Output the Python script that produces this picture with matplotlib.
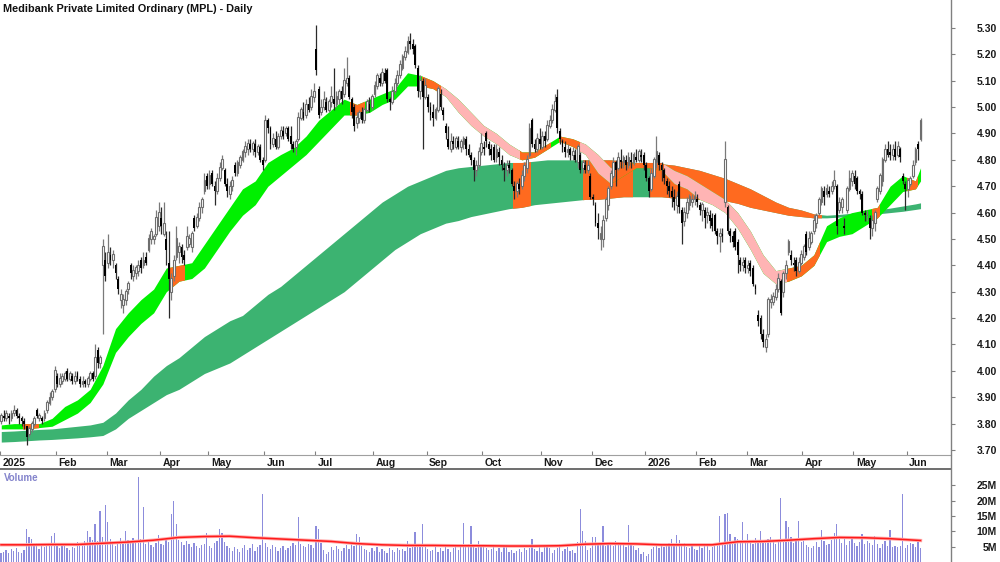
import matplotlib
matplotlib.use("Agg")
import matplotlib.pyplot as plt
from matplotlib.patches import Rectangle
from matplotlib.lines import Line2D
import numpy as np

plt.rcParams['font.family'] = ['Liberation Sans', 'DejaVu Sans']

# Daily candles, one trading day per entry (Jan 2025 .. Jun 2026)
opens = [
    3.81, 3.83, 3.82, 3.83, 3.82, 3.84, 3.85, 3.83, 3.82, 3.81,
    3.79, 3.76, 3.78, 3.80, 3.85, 3.82, 3.82, 3.82, 3.85, 3.88,
    3.90, 3.93, 3.98, 3.95, 3.96, 3.97, 4.00, 3.97, 3.98, 3.96,
    3.99, 3.97, 3.95, 3.96, 3.95, 3.97, 3.99, 3.98, 4.08, 4.03,
    4.40, 4.42, 4.41, 4.44, 4.42, 4.40, 4.35, 4.27, 4.25, 4.27,
    4.31, 4.40, 4.36, 4.37, 4.38, 4.42, 4.40, 4.43, 4.46, 4.50,
    4.50, 4.52, 4.55, 4.58, 4.52, 4.50, 4.41, 4.30, 4.36, 4.43,
    4.45, 4.47, 4.44, 4.47, 4.48, 4.47, 4.58, 4.55, 4.58, 4.62,
    4.68, 4.74, 4.71, 4.75, 4.70, 4.68, 4.73, 4.77, 4.76, 4.71,
    4.67, 4.70, 4.78, 4.75, 4.78, 4.80, 4.83, 4.84, 4.86, 4.84,
    4.86, 4.83, 4.85, 4.80, 4.80, 4.95, 4.92, 4.86, 4.88, 4.85,
    4.89, 4.91, 4.90, 4.92, 4.89, 4.86, 4.85, 4.88, 4.96, 4.98,
    4.97, 5.01, 5.00, 5.04, 5.22, 5.07, 4.98, 5.00, 5.02, 4.99,
    5.02, 5.03, 5.01, 5.03, 5.06, 5.05, 5.09, 5.11, 5.03, 5.00,
    4.94, 4.96, 4.98, 4.95, 4.99, 5.01, 5.00, 5.05, 5.08, 5.11,
    5.09, 5.13, 5.14, 5.03, 5.02, 5.06, 5.09, 5.12, 5.15, 5.19,
    5.21, 5.25, 5.24, 5.23, 5.15, 5.06, 5.10, 5.04, 5.04, 5.00,
    4.98, 4.96, 4.99, 5.05, 4.99, 4.93, 4.88, 4.84, 4.87, 4.85,
    4.87, 4.85, 4.86, 4.88, 4.84, 4.82, 4.80, 4.76, 4.78, 4.83,
    4.85, 4.90, 4.86, 4.84, 4.85, 4.81, 4.83, 4.80, 4.77, 4.76,
    4.78, 4.76, 4.70, 4.68, 4.71, 4.70, 4.74, 4.77, 4.82, 4.95,
    4.86, 4.84, 4.88, 4.85, 4.89, 4.88, 4.93, 4.95, 4.99, 5.04,
    4.91, 4.87, 4.85, 4.83, 4.84, 4.82, 4.82, 4.79, 4.82, 4.77,
    4.78, 4.76, 4.74, 4.66, 4.63, 4.56, 4.50, 4.50, 4.58, 4.63,
    4.70, 4.74, 4.79, 4.77, 4.80, 4.79, 4.80, 4.78, 4.80, 4.79,
    4.81, 4.80, 4.82, 4.82, 4.78, 4.73, 4.69, 4.74, 4.79, 4.82,
    4.78, 4.76, 4.72, 4.70, 4.68, 4.66, 4.63, 4.71, 4.61, 4.57,
    4.60, 4.63, 4.64, 4.65, 4.65, 4.63, 4.61, 4.61, 4.59, 4.59,
    4.58, 4.59, 4.53, 4.51, 4.52, 4.64, 4.62, 4.53, 4.51, 4.53,
    4.49, 4.42, 4.40, 4.42, 4.39, 4.41, 4.39, 4.32, 4.21, 4.20,
    4.14, 4.09, 4.14, 4.26, 4.26, 4.28, 4.31, 4.34, 4.30, 4.37,
    4.45, 4.44, 4.41, 4.42, 4.38, 4.41, 4.43, 4.52, 4.47, 4.49,
    4.53, 4.56, 4.60, 4.64, 4.68, 4.67, 4.68, 4.68, 4.70, 4.70,
    4.61, 4.62, 4.55, 4.61, 4.69, 4.72, 4.74, 4.73, 4.68, 4.67,
    4.60, 4.59, 4.58, 4.54, 4.56, 4.65, 4.68, 4.72, 4.80, 4.84,
    4.83, 4.82, 4.84, 4.82, 4.84, 4.74, 4.71, 4.69, 4.71, 4.74,
    4.79, 4.86, 4.88,
]
highs = [
    3.84, 3.85, 3.85, 3.84, 3.85, 3.87, 3.86, 3.84, 3.83, 3.82,
    3.79, 3.79, 3.81, 3.83, 3.86, 3.84, 3.83, 3.85, 3.89, 3.92,
    3.93, 4.02, 3.99, 3.99, 3.99, 4.00, 4.01, 4.00, 3.99, 4.00,
    4.00, 3.98, 3.98, 3.97, 3.98, 4.00, 4.00, 4.10, 4.09, 4.06,
    4.50, 4.45, 4.52, 4.47, 4.46, 4.41, 4.36, 4.31, 4.29, 4.31,
    4.34, 4.41, 4.40, 4.40, 4.42, 4.43, 4.45, 4.45, 4.52, 4.54,
    4.52, 4.61, 4.64, 4.62, 4.64, 4.53, 4.53, 4.37, 4.44, 4.55,
    4.49, 4.48, 4.46, 4.55, 4.52, 4.53, 4.59, 4.60, 4.64, 4.66,
    4.75, 4.75, 4.76, 4.76, 4.72, 4.75, 4.79, 4.82, 4.77, 4.73,
    4.72, 4.74, 4.79, 4.80, 4.82, 4.84, 4.87, 4.88, 4.88, 4.87,
    4.88, 4.86, 4.86, 4.81, 4.97, 4.96, 4.93, 4.90, 4.91, 4.90,
    4.93, 4.93, 4.93, 4.93, 4.93, 4.87, 4.88, 4.98, 5.00, 5.02,
    5.03, 5.04, 5.07, 5.09, 5.31, 5.08, 5.03, 5.06, 5.04, 5.03,
    5.08, 5.15, 5.06, 5.07, 5.08, 5.15, 5.19, 5.12, 5.04, 5.01,
    4.98, 4.99, 5.00, 5.00, 5.03, 5.04, 5.05, 5.10, 5.13, 5.13,
    5.15, 5.15, 5.15, 5.04, 5.08, 5.11, 5.14, 5.18, 5.20, 5.23,
    5.27, 5.28, 5.26, 5.24, 5.16, 5.12, 5.11, 5.11, 5.05, 5.02,
    5.01, 5.00, 5.08, 5.07, 5.00, 4.94, 4.93, 4.90, 4.89, 4.89,
    4.89, 4.88, 4.89, 4.89, 4.86, 4.83, 4.81, 4.80, 4.85, 4.90,
    4.87, 4.91, 4.87, 4.86, 4.86, 4.86, 4.85, 4.82, 4.79, 4.80,
    4.80, 4.77, 4.72, 4.72, 4.73, 4.76, 4.79, 4.82, 4.94, 4.96,
    4.88, 4.90, 4.92, 4.91, 4.91, 4.95, 4.97, 5.01, 5.05, 5.07,
    4.92, 4.88, 4.87, 4.86, 4.85, 4.85, 4.84, 4.86, 4.83, 4.80,
    4.80, 4.80, 4.75, 4.67, 4.64, 4.60, 4.55, 4.59, 4.66, 4.70,
    4.76, 4.81, 4.80, 4.83, 4.84, 4.82, 4.82, 4.83, 4.83, 4.83,
    4.84, 4.84, 4.84, 4.83, 4.79, 4.74, 4.77, 4.81, 4.89, 4.83,
    4.79, 4.77, 4.73, 4.72, 4.70, 4.69, 4.68, 4.72, 4.62, 4.62,
    4.66, 4.67, 4.67, 4.68, 4.67, 4.64, 4.64, 4.62, 4.62, 4.61,
    4.60, 4.60, 4.54, 4.54, 4.54, 4.87, 4.63, 4.54, 4.53, 4.54,
    4.50, 4.43, 4.43, 4.43, 4.42, 4.42, 4.40, 4.33, 4.23, 4.21,
    4.16, 4.14, 4.28, 4.29, 4.30, 4.33, 4.37, 4.35, 4.38, 4.42,
    4.50, 4.46, 4.43, 4.43, 4.43, 4.46, 4.48, 4.53, 4.53, 4.53,
    4.59, 4.60, 4.66, 4.70, 4.70, 4.71, 4.70, 4.72, 4.76, 4.71,
    4.66, 4.66, 4.58, 4.70, 4.76, 4.76, 4.76, 4.74, 4.69, 4.68,
    4.61, 4.61, 4.59, 4.59, 4.61, 4.70, 4.75, 4.81, 4.86, 4.87,
    4.86, 4.86, 4.87, 4.87, 4.85, 4.75, 4.72, 4.73, 4.74, 4.80,
    4.85, 4.87, 4.96,
]
lows = [
    3.80, 3.81, 3.81, 3.80, 3.81, 3.83, 3.82, 3.80, 3.79, 3.78,
    3.72, 3.75, 3.77, 3.79, 3.82, 3.81, 3.80, 3.81, 3.84, 3.87,
    3.89, 3.92, 3.94, 3.94, 3.95, 3.96, 3.96, 3.96, 3.95, 3.95,
    3.96, 3.94, 3.94, 3.94, 3.94, 3.96, 3.96, 3.97, 4.01, 4.01,
    4.14, 4.34, 4.39, 4.40, 4.39, 4.35, 4.29, 4.24, 4.22, 4.25,
    4.29, 4.35, 4.34, 4.35, 4.36, 4.37, 4.39, 4.40, 4.45, 4.48,
    4.48, 4.51, 4.53, 4.52, 4.51, 4.40, 4.20, 4.27, 4.34, 4.42,
    4.41, 4.41, 4.40, 4.46, 4.47, 4.45, 4.53, 4.54, 4.57, 4.60,
    4.67, 4.69, 4.69, 4.70, 4.63, 4.67, 4.72, 4.76, 4.70, 4.66,
    4.65, 4.68, 4.74, 4.74, 4.77, 4.79, 4.81, 4.82, 4.83, 4.82,
    4.81, 4.82, 4.79, 4.76, 4.79, 4.90, 4.84, 4.85, 4.84, 4.84,
    4.88, 4.88, 4.89, 4.87, 4.84, 4.83, 4.82, 4.87, 4.95, 4.95,
    4.96, 4.98, 4.99, 5.02, 5.12, 4.96, 4.97, 4.99, 4.98, 4.98,
    5.00, 4.99, 5.00, 5.01, 5.01, 5.04, 5.08, 5.03, 4.96, 4.91,
    4.92, 4.94, 4.94, 4.94, 4.98, 4.98, 4.99, 5.04, 5.07, 5.08,
    5.08, 5.09, 5.02, 4.99, 5.01, 5.05, 5.08, 5.11, 5.14, 5.18,
    5.20, 5.22, 5.20, 5.15, 5.04, 5.03, 4.84, 5.03, 4.98, 4.95,
    4.93, 4.95, 4.98, 4.99, 4.95, 4.88, 4.84, 4.83, 4.84, 4.84,
    4.84, 4.83, 4.84, 4.82, 4.81, 4.78, 4.72, 4.74, 4.77, 4.82,
    4.82, 4.85, 4.82, 4.80, 4.79, 4.79, 4.78, 4.76, 4.72, 4.74,
    4.75, 4.70, 4.65, 4.66, 4.67, 4.69, 4.72, 4.75, 4.81, 4.85,
    4.83, 4.83, 4.84, 4.84, 4.85, 4.87, 4.92, 4.94, 4.98, 4.90,
    4.86, 4.83, 4.81, 4.81, 4.80, 4.80, 4.79, 4.77, 4.75, 4.75,
    4.75, 4.75, 4.65, 4.63, 4.55, 4.50, 4.46, 4.47, 4.57, 4.61,
    4.69, 4.73, 4.70, 4.76, 4.77, 4.77, 4.76, 4.77, 4.77, 4.78,
    4.79, 4.79, 4.79, 4.76, 4.72, 4.66, 4.68, 4.73, 4.77, 4.76,
    4.72, 4.71, 4.67, 4.66, 4.62, 4.61, 4.60, 4.60, 4.48, 4.55,
    4.58, 4.61, 4.62, 4.63, 4.62, 4.59, 4.57, 4.54, 4.56, 4.54,
    4.53, 4.52, 4.48, 4.45, 4.49, 4.62, 4.52, 4.49, 4.47, 4.46,
    4.37, 4.38, 4.38, 4.37, 4.37, 4.36, 4.32, 4.29, 4.17, 4.12,
    4.09, 4.07, 4.13, 4.24, 4.25, 4.27, 4.30, 4.21, 4.28, 4.35,
    4.44, 4.40, 4.38, 4.36, 4.37, 4.40, 4.42, 4.44, 4.46, 4.48,
    4.52, 4.54, 4.59, 4.63, 4.63, 4.66, 4.66, 4.67, 4.69, 4.52,
    4.60, 4.60, 4.52, 4.60, 4.68, 4.70, 4.69, 4.67, 4.65, 4.59,
    4.57, 4.57, 4.50, 4.51, 4.53, 4.64, 4.67, 4.70, 4.79, 4.81,
    4.80, 4.80, 4.80, 4.81, 4.79, 4.71, 4.61, 4.66, 4.70, 4.73,
    4.78, 4.80, 4.87,
]
closes = [
    3.83, 3.82, 3.84, 3.82, 3.84, 3.85, 3.83, 3.82, 3.81, 3.80,
    3.75, 3.78, 3.80, 3.82, 3.83, 3.83, 3.81, 3.84, 3.88, 3.90,
    3.92, 4.00, 3.95, 3.97, 3.98, 3.99, 3.97, 3.99, 3.96, 3.98,
    3.97, 3.95, 3.96, 3.95, 3.97, 3.99, 3.97, 4.05, 4.03, 4.05,
    4.47, 4.36, 4.45, 4.42, 4.44, 4.37, 4.31, 4.29, 4.27, 4.30,
    4.33, 4.37, 4.38, 4.39, 4.40, 4.39, 4.42, 4.41, 4.50, 4.53,
    4.51, 4.58, 4.60, 4.55, 4.56, 4.46, 4.35, 4.35, 4.42, 4.50,
    4.47, 4.43, 4.42, 4.51, 4.50, 4.52, 4.54, 4.58, 4.62, 4.65,
    4.72, 4.70, 4.74, 4.71, 4.68, 4.73, 4.77, 4.80, 4.71, 4.68,
    4.70, 4.72, 4.75, 4.79, 4.81, 4.83, 4.85, 4.86, 4.84, 4.86,
    4.83, 4.85, 4.80, 4.78, 4.95, 4.92, 4.86, 4.88, 4.85, 4.89,
    4.91, 4.89, 4.92, 4.88, 4.86, 4.84, 4.87, 4.96, 4.99, 4.96,
    5.01, 4.99, 5.04, 5.06, 5.14, 4.97, 5.00, 5.03, 4.99, 5.02,
    5.04, 5.01, 5.04, 5.06, 5.03, 5.10, 5.11, 5.04, 4.98, 4.93,
    4.96, 4.98, 4.95, 4.99, 5.02, 4.99, 5.04, 5.08, 5.12, 5.09,
    5.13, 5.10, 5.03, 5.02, 5.06, 5.09, 5.12, 5.16, 5.19, 5.21,
    5.25, 5.24, 5.22, 5.16, 5.06, 5.10, 5.04, 5.08, 5.00, 4.97,
    4.96, 4.99, 5.07, 5.00, 4.97, 4.90, 4.85, 4.87, 4.86, 4.88,
    4.85, 4.87, 4.88, 4.84, 4.82, 4.80, 4.76, 4.78, 4.83, 4.86,
    4.84, 4.87, 4.84, 4.82, 4.80, 4.84, 4.81, 4.78, 4.76, 4.78,
    4.77, 4.71, 4.68, 4.71, 4.69, 4.74, 4.78, 4.80, 4.92, 4.86,
    4.84, 4.88, 4.86, 4.89, 4.87, 4.93, 4.95, 4.99, 5.02, 4.92,
    4.88, 4.85, 4.83, 4.84, 4.82, 4.83, 4.80, 4.85, 4.76, 4.79,
    4.76, 4.78, 4.66, 4.65, 4.56, 4.54, 4.52, 4.57, 4.65, 4.69,
    4.75, 4.79, 4.76, 4.81, 4.79, 4.81, 4.78, 4.81, 4.79, 4.82,
    4.80, 4.83, 4.81, 4.78, 4.73, 4.68, 4.75, 4.80, 4.83, 4.78,
    4.76, 4.73, 4.70, 4.68, 4.66, 4.64, 4.66, 4.62, 4.56, 4.60,
    4.64, 4.66, 4.65, 4.66, 4.64, 4.61, 4.63, 4.58, 4.60, 4.57,
    4.55, 4.53, 4.51, 4.52, 4.51, 4.80, 4.53, 4.51, 4.49, 4.47,
    4.44, 4.40, 4.41, 4.39, 4.40, 4.38, 4.33, 4.31, 4.19, 4.14,
    4.11, 4.12, 4.27, 4.27, 4.28, 4.31, 4.35, 4.22, 4.37, 4.40,
    4.49, 4.42, 4.40, 4.38, 4.41, 4.44, 4.47, 4.45, 4.50, 4.52,
    4.57, 4.59, 4.65, 4.69, 4.66, 4.69, 4.67, 4.70, 4.72, 4.55,
    4.64, 4.65, 4.54, 4.69, 4.73, 4.75, 4.71, 4.68, 4.67, 4.60,
    4.59, 4.59, 4.54, 4.57, 4.60, 4.69, 4.74, 4.80, 4.84, 4.82,
    4.82, 4.84, 4.81, 4.85, 4.81, 4.72, 4.69, 4.72, 4.73, 4.78,
    4.84, 4.84, 4.95,
]
# volume in millions of shares
volumes = [
    3.0, 3.4, 3.8, 2.9, 4.1, 3.6, 4.4, 3.2, 2.8, 4.0,
    10.8, 8.0, 7.5, 5.2, 6.1, 4.3, 5.8, 4.9, 5.5, 6.2,
    8.5, 9.3, 5.1, 4.4, 6.0, 5.2, 4.6, 3.9, 5.0, 4.7,
    6.5, 5.9, 5.4, 6.8, 10.0, 8.2, 7.1, 12.4, 6.9, 16.7,
    8.1, 18.6, 13.0, 7.5, 6.3, 5.2, 6.9, 7.7, 6.4, 10.0,
    7.2, 6.8, 7.9, 6.1, 27.8, 7.4, 18.0, 5.8, 6.6, 5.4,
    4.9, 6.2, 8.8, 6.0, 5.7, 7.3, 6.5, 15.7, 20.0, 12.4,
    7.1, 6.4, 5.5, 6.8, 5.9, 4.8, 6.2, 5.3, 4.6, 5.7,
    6.0, 9.5, 5.1, 4.5, 6.3, 7.0, 10.8, 9.5, 6.6, 5.2,
    4.4, 3.6, 5.0, 4.2, 3.1, 4.7, 5.4, 3.9, 4.6, 5.8,
    3.5, 4.9, 5.6, 22.2, 6.1, 5.0, 4.3, 5.5, 4.8, 3.7,
    4.6, 5.2, 3.9, 4.4, 5.1, 6.3, 5.7, 14.7, 6.0, 5.3,
    4.8, 5.9, 5.4, 4.7, 11.8, 10.9, 6.2, 4.0, 2.6, 3.4,
    4.8, 3.9, 5.2, 4.1, 3.5, 4.6, 5.5, 4.3, 6.0, 5.1,
    9.2, 8.0, 5.3, 4.2, 3.8, 3.1, 4.5, 3.6, 4.9, 3.3,
    4.1, 3.7, 2.9, 4.4, 3.8, 3.2, 4.6, 3.9, 4.3, 3.5,
    7.0, 4.4, 5.0, 9.8, 5.6, 4.9, 12.4, 5.8, 4.2, 3.6,
    3.9, 4.8, 3.3, 4.5, 3.7, 5.1, 4.2, 3.4, 4.6, 5.3,
    4.0, 5.7, 12.8, 4.9, 6.0, 11.8, 5.2, 4.5, 7.0, 5.1,
    5.5, 4.6, 3.8, 4.2, 5.0, 3.6, 4.4, 3.1, 4.9, 5.6,
    3.3, 4.0, 2.8, 3.5, 4.3, 3.2, 4.7, 3.9, 4.5, 7.5,
    4.1, 3.6, 5.0, 3.4, 4.8, 5.2, 4.4, 3.0, 3.8, 4.6,
    5.9, 3.7, 4.2, 5.1, 3.5, 4.0, 2.9, 6.5, 17.3, 10.2,
    7.0, 3.8, 4.5, 8.0, 8.2, 5.6, 6.1, 11.8, 5.2, 5.9,
    6.6, 5.3, 7.0, 6.4, 5.5, 6.0, 4.8, 12.1, 5.7, 5.1,
    3.9, 4.4, 2.7, 3.2, 1.9, 2.6, 4.1, 4.8, 5.3, 4.4,
    5.6, 4.9, 5.2, 6.3, 7.6, 5.8, 8.8, 7.1, 5.5, 6.2,
    5.0, 4.6, 5.4, 4.3, 3.9, 5.1, 4.7, 5.6, 5.3, 4.0,
    4.8, 5.5, 6.0, 15.0, 6.2, 15.7, 16.0, 9.2, 6.1, 8.0,
    7.4, 6.8, 13.0, 6.5, 9.0, 7.2, 6.0, 7.7, 6.4, 10.2,
    7.0, 6.6, 7.5, 8.0, 6.9, 5.8, 7.3, 21.0, 6.7, 13.4,
    11.4, 8.1, 6.2, 7.0, 13.4, 6.5, 7.9, 5.5, 5.0, 4.6,
    5.3, 6.4, 4.9, 10.5, 6.8, 5.7, 6.0, 7.2, 9.5, 12.4,
    7.5, 6.3, 8.0, 5.6, 6.9, 7.7, 6.1, 5.2, 6.6, 9.2,
    5.8, 7.0, 6.2, 5.4, 8.4, 6.0, 4.7, 5.9, 6.8, 5.3,
    10.5, 4.8, 5.2, 4.9, 5.1, 22.2, 4.6, 5.5, 6.3, 5.8,
    5.0, 7.0, 4.6,
]

# moving-average ribbons, read every 5 trading days
band_days = list(range(0, 361, 5)) + [362]
short_lo = [
    3.78, 3.78, 3.78, 3.785, 3.79, 3.815, 3.84, 3.88, 3.95, 4.07,
    4.13, 4.18, 4.22, 4.30, 4.34, 4.35, 4.39, 4.46, 4.53, 4.59,
    4.63, 4.70, 4.74, 4.78, 4.82, 4.87, 4.92, 4.97, 4.97, 4.98,
    5.01, 5.03, 5.08, 5.08, 5.07, 5.04, 4.98, 4.93, 4.89, 4.86,
    4.82, 4.80, 4.81, 4.84, 4.87, 4.85, 4.82, 4.75, 4.71, 4.74,
    4.77, 4.77, 4.76, 4.71, 4.69, 4.65, 4.63, 4.60, 4.54, 4.46,
    4.37, 4.33, 4.34, 4.36, 4.40, 4.49, 4.51, 4.52, 4.55, 4.58,
    4.63, 4.68, 4.69, 4.72,
]
short_hi = [
    3.795, 3.80, 3.80, 3.80, 3.82, 3.865, 3.89, 3.93, 4.02, 4.16,
    4.22, 4.27, 4.31, 4.39, 4.40, 4.41, 4.48, 4.55, 4.62, 4.69,
    4.72, 4.79, 4.82, 4.845, 4.89, 4.95, 4.99, 5.03, 5.01, 5.03,
    5.05, 5.07, 5.13, 5.12, 5.10, 5.07, 5.03, 4.98, 4.93, 4.90,
    4.86, 4.83, 4.83, 4.86, 4.89, 4.88, 4.86, 4.82, 4.77, 4.78,
    4.79, 4.79, 4.79, 4.76, 4.74, 4.71, 4.68, 4.65, 4.60, 4.53,
    4.44, 4.38, 4.39, 4.40, 4.44, 4.55, 4.58, 4.60, 4.61, 4.62,
    4.70, 4.74, 4.72, 4.77,
]
long_lo = [
    3.73, 3.732, 3.735, 3.738, 3.74, 3.743, 3.746, 3.75, 3.755, 3.78,
    3.82, 3.85, 3.88, 3.91, 3.93, 3.96, 3.99, 4.01, 4.03, 4.06,
    4.09, 4.12, 4.15, 4.18, 4.21, 4.24, 4.27, 4.30, 4.34, 4.38,
    4.42, 4.46, 4.49, 4.52, 4.54, 4.56, 4.57, 4.585, 4.595, 4.605,
    4.615, 4.62, 4.63, 4.635, 4.64, 4.645, 4.65, 4.65, 4.655, 4.66,
    4.66, 4.66, 4.66, 4.655, 4.655, 4.65, 4.65, 4.645, 4.635, 4.62,
    4.61, 4.60, 4.59, 4.585, 4.58, 4.58, 4.583, 4.587, 4.59, 4.595,
    4.60, 4.605, 4.612, 4.615,
]
long_hi = [
    3.77, 3.772, 3.775, 3.778, 3.78, 3.785, 3.79, 3.795, 3.805, 3.84,
    3.89, 3.93, 3.98, 4.02, 4.05, 4.09, 4.13, 4.16, 4.19, 4.21,
    4.25, 4.29, 4.32, 4.36, 4.40, 4.44, 4.48, 4.52, 4.56, 4.60,
    4.64, 4.67, 4.70, 4.72, 4.74, 4.76, 4.77, 4.775, 4.78, 4.785,
    4.79, 4.79, 4.795, 4.80, 4.80, 4.80, 4.80, 4.80, 4.80, 4.795,
    4.79, 4.79, 4.785, 4.78, 4.77, 4.76, 4.745, 4.73, 4.71, 4.69,
    4.665, 4.64, 4.62, 4.61, 4.595, 4.59, 4.593, 4.598, 4.603, 4.61,
    4.617, 4.625, 4.633, 4.637,
]
# day spans where the ribbons change colour
short_orange = [(8.5, 14.5), (66, 72), (137.5, 143), (165.5, 173), (204, 216),
                (219.5, 228), (240.5, 261), (309, 322), (343, 345.5), (356.5, 360.5)]
short_pink = [(173, 204), (228, 240.5), (261, 309)]
long_orange = [(201.5, 208.3), (229, 248.5), (255.5, 323)]

ma_days = list(range(0, 361, 10)) + [362]
volume_ma = [
    5.6, 5.6, 5.7, 5.7, 6.1, 6.5, 7.1, 8.0, 8.3, 8.4,
    7.9, 7.5, 7.1, 6.7, 6.0, 5.6, 5.4, 5.4, 5.3, 5.3,
    5.2, 5.2, 5.3, 5.8, 6.0, 5.9, 5.6, 5.6, 5.6, 6.6,
    6.7, 7.1, 7.6, 8.0, 7.9, 7.6, 7.1, 7.0,
]

month_starts = [0, 22, 42, 63, 82, 104, 124, 147, 168, 190, 213, 233, 254, 274, 294, 316, 336, 357]
month_labels = ['2025', 'Feb', 'Mar', 'Apr', 'May', 'Jun', 'Jul', 'Aug', 'Sep', 'Oct',
                'Nov', 'Dec', '2026', 'Feb', 'Mar', 'Apr', 'May', 'Jun']
price_ticks = [3.70, 3.80, 3.90, 4.00, 4.10, 4.20, 4.30, 4.40, 4.50,
               4.60, 4.70, 4.80, 4.90, 5.00, 5.10, 5.20, 5.30]
volume_ticks = [5, 10, 15, 20, 25]

GREEN = '#00f000'
ORANGE = '#ff6a1f'
PINK = '#ffb4b4'
DARK_GREEN = '#3cb371'

assert len(opens) == len(highs) == len(lows) == len(closes) == len(volumes)


def draw_band(ax, lo, hi, base, overlays, z):
    ax.fill_between(band_days, lo, hi, color=base, lw=0, zorder=z)
    for spans, col in overlays:
        for a, b in spans:
            poly = ax.fill_between(band_days, lo, hi, color=col, lw=0, zorder=z)
            poly.set_clip_path(Rectangle((a, 0), b - a, 10, transform=ax.transData))


fig = plt.figure(figsize=(10, 5.62), dpi=100)
ax = fig.add_axes([0, 1 - 455 / 562, 0.951, 455 / 562])
axv = fig.add_axes([0, 0, 0.951, 93 / 562])

days = np.arange(len(closes))
o = np.array(opens)
c = np.array(closes)
up = c >= o

# ribbons
draw_band(ax, long_lo, long_hi, DARK_GREEN, [(long_orange, ORANGE)], 1)
draw_band(ax, short_lo, short_hi, GREEN, [(short_orange, ORANGE), (short_pink, PINK)], 2)

# candles: hollow grey when up, solid black when down
ax.vlines(days[up], np.array(lows)[up], np.array(highs)[up], color='#7a7a7a', lw=0.9, zorder=3)
ax.vlines(days[~up], np.array(lows)[~up], np.array(highs)[~up], color='#2a2a2a', lw=0.9, zorder=3)
ax.bar(days[up], (c - o)[up] + 0.002, bottom=o[up], width=0.72, facecolor='white',
       edgecolor='#6e6e6e', lw=0.8, zorder=4)
ax.bar(days[~up], (o - c)[~up], bottom=c[~up], width=0.72, color='black', lw=0, zorder=4)

ax.set_xlim(-0.4, 374)
ax.set_ylim(3.681, 5.406)
ax.set_yticks(price_ticks)
ax.set_yticklabels(['%.2f' % p for p in price_ticks])
ax.yaxis.tick_right()
ax.tick_params(axis='y', direction='out', length=3, width=0.8, color='#808080',
               pad=30, labelsize=7.5, labelcolor='#1a1a1a')
for lbl in ax.get_yticklabels():
    lbl.set_fontweight('bold')
    lbl.set_horizontalalignment('right')

ticks = [m - 0.5 for m in month_starts]
ax.set_xticks(ticks)
ax.tick_params(axis='x', direction='in', length=3, color='#808080', labelbottom=False)
for t, name in zip(ticks, month_labels):
    ax.text(t + 1.0, -8 / 455, name, transform=ax.get_xaxis_transform(),
            ha='left', va='center', fontsize=7.5, fontweight='bold', color='#1a1a1a')

for side in ['top', 'left', 'right']:
    ax.spines[side].set_visible(False)
ax.spines['bottom'].set_color('#a0a0a0')

# volume panel
axv.bar(days, volumes, width=0.5, color='#8c8cdc', lw=0)
axv.plot(ma_days, volume_ma, color='#ffaaaa', lw=2.4, zorder=3)
axv.plot(ma_days, volume_ma, color='#ff1a1a', lw=1.1, zorder=4)
axv.set_xlim(-0.4, 374)
axv.set_ylim(0, 30.3)
axv.set_xticks([])
axv.set_yticks(volume_ticks)
axv.set_yticklabels(['%dM' % v for v in volume_ticks])
axv.yaxis.tick_right()
axv.tick_params(axis='y', direction='out', length=3, width=0.8, color='#808080',
                pad=30, labelsize=7.5, labelcolor='#1a1a1a')
for lbl in axv.get_yticklabels():
    lbl.set_fontweight('bold')
    lbl.set_horizontalalignment('right')
for side in ['bottom', 'left', 'right']:
    axv.spines[side].set_visible(False)
axv.spines['top'].set_color('#555555')
axv.spines['top'].set_linewidth(1.2)

fig.add_artist(Line2D([0.951, 0.951], [0, 1], transform=fig.transFigure, color='#808080', lw=1))

fig.text(0.003, 1 - 9 / 562, 'Medibank Private Limited Ordinary (MPL) - Daily',
         fontsize=7.8, fontweight='bold', va='center', color='#111111')
fig.text(0.004, 1 - 478 / 562, 'Volume', fontsize=7, fontweight='bold', va='center',
         color='#8484cc')

fig.savefig('out.png', dpi=100)
